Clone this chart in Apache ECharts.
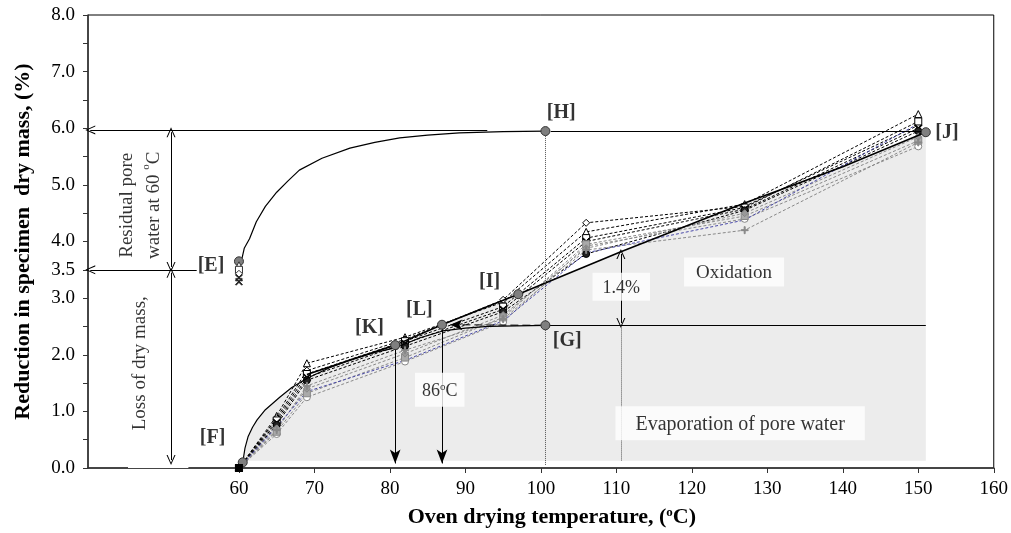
<!DOCTYPE html>
<html>
<head>
<meta charset="utf-8">
<script src="https://cdn.jsdelivr.net/npm/echarts@6/dist/echarts.min.js"></script>
<style>
  html, body { margin: 0; padding: 0; background: #fff; }
  #chart { width: 1011px; height: 533px; }
</style>
</head>
<body>
<div id="chart"></div>
<script>
// oven temperatures of the test specimens
const temps = [60, 65, 69, 82, 95, 106, 127, 150]
// mass reduction (%) of each specimen
const specA = [0, 0.92, 1.85, 2.31, 2.93, 4.17, 4.66, 6.25]
const specB = [0, 0.88, 1.72, 2.27, 2.97, 4.33, 4.62, 6.05]
const specC = [0, 0.84, 1.66, 2.24, 2.85, 4.06, 4.60, 6.12]
const specD = [0, 0.80, 1.60, 2.20, 2.80, 4.00, 4.57, 6.00]
const specE = [0, 0.76, 1.55, 2.15, 2.76, 3.78, 4.55, 5.95]
const specF = [0, 0.60, 1.25, 1.88, 2.58, 3.92, 4.40, 5.68]
const specG = [0, 0.64, 1.32, 1.95, 2.66, 3.95, 4.45, 5.78]
const specH = [0, 0.70, 1.40, 2.02, 2.70, 3.88, 4.50, 5.85]
const specI = [0, 0.67, 1.45, 2.08, 2.63, 3.85, 4.20, 5.75]
const specJ = [0, 0.73, 1.35, 1.90, 2.60, 3.80, 4.38, 6.08]

// values read at 60 C for the residual pore water [E]
const residualAt60 = [3.65, 3.58, 3.50, 3.43, 3.36, 3.29]

// evaporation curve F -> G
const evapX = [60.5, 60.8, 61.2, 61.8, 62.4, 63.5, 65.4, 67, 69.1, 72, 75, 78, 80.7, 84, 87, 90, 93, 100.6]
const evapY = [0.10, 0.35, 0.55, 0.72, 0.85, 1.03, 1.25, 1.42, 1.59, 1.77, 1.92, 2.04, 2.12, 2.30, 2.42, 2.47, 2.50, 2.52]
// residual pore water curve E -> H
const resX = [60.4, 60.7, 61.4, 62.3, 63.5, 65, 66.5, 68, 71, 74.7, 78, 81.3, 85, 89.2, 95, 100.6]
const resY = [3.70, 3.88, 4.05, 4.35, 4.62, 4.87, 5.07, 5.26, 5.47, 5.65, 5.75, 5.83, 5.88, 5.92, 5.94, 5.95]
// trend line K -> L -> I -> J
const trendX = [69, 80.7, 86.9, 97, 110.6, 127, 140, 151]
const trendY = [1.65, 2.17, 2.53, 3.07, 3.82, 4.68, 5.32, 5.93]
// shaded region boundary
const fillX = [60.6, 61.2, 62.4, 63.5, 65.4, 67, 69.1, 75, 80.7, 86.9, 97, 110.6, 127, 140, 151, 151]
const fillY = [0.13, 0.55, 0.85, 1.03, 1.25, 1.42, 1.60, 1.95, 2.17, 2.53, 3.07, 3.82, 4.68, 5.32, 5.93, 0.13]
// marked points F, K, L, I, G, H, J
const keyX = [60.5, 80.7, 86.9, 97, 100.6, 100.6, 151]
const keyY = [0.10, 2.17, 2.53, 3.07, 2.52, 5.95, 5.93]

// axis ticks and labels
const xTicks = [60, 70, 80, 90, 100, 110, 120, 130, 140, 150, 160]
const yTicks = [0, 0.5, 1, 1.5, 2, 2.5, 3, 3.5, 4, 4.5, 5, 5.5, 6, 6.5, 7, 7.5, 8]
const yLabels = [0, 1, 2, 3, 3.5, 4, 5, 6, 7, 8]

const FONT = 'Liberation Serif'
const pts = (xs, ys) => xs.map((x, i) => [x, ys[i]])

const xPath = 'path://M1,0 L5,4 L9,0 L10,1 L6,5 L10,9 L9,10 L5,6 L1,10 L0,9 L4,5 L0,1 Z'
const plusPath = 'path://M4.3,0 L5.7,0 L5.7,4.3 L10,4.3 L10,5.7 L5.7,5.7 L5.7,10 L4.3,10 L4.3,5.7 L0,5.7 L0,4.3 L4.3,4.3 Z'
const openArrow = 'path://M5,0 L10,10 L8.8,10 L5,2.2 L1.2,10 L0,10 Z'

function spec(values, color, symbol, fill, size) {
  return {
    type: 'line',
    data: pts(temps, values),
    symbol: symbol,
    symbolSize: size || 7,
    lineStyle: { color: color, width: 1, type: [3, 2] },
    itemStyle: { color: fill, borderColor: color, borderWidth: 1 },
    z: 3
  }
}

const chart = echarts.init(document.getElementById('chart'))

const seg = (a, b, s1, s2, style) => [
  { coord: a, symbol: s1 ? s1[0] : 'none', symbolSize: s1 ? s1[1] : 0, lineStyle: style },
  { coord: b, symbol: s2 ? s2[0] : 'none', symbolSize: s2 ? s2[1] : 0 }
]
const OPEN = [openArrow, [9, 10]]
const FILLED = ['arrow', [8, 14]]
const dotted = { type: 'dotted', color: '#555', width: 1 }

function lbl(x, y, text, extra) {
  return {
    value: [x, y],
    label: Object.assign({
      show: true, formatter: text, position: 'inside',
      fontFamily: FONT, fontSize: 20, fontWeight: 'bold', color: '#000',
      rich: { s: { fontSize: 11, verticalAlign: 'top', fontFamily: FONT, lineHeight: 11 } }
    }, extra || {})
  }
}
const box = { fontWeight: 'normal', fontSize: 18, backgroundColor: '#fff' }

const option = {
  animation: false,
  grid: { left: 88, right: 16, top: 15, bottom: 65, show: true, borderColor: '#000', borderWidth: 1 },
  xAxis: {
    type: 'value', min: 40, max: 160,
    splitLine: { show: false },
    axisLine: { lineStyle: { color: '#333', width: 1.5 } },
    axisTick: { customValues: xTicks, length: 5, lineStyle: { color: '#333' } },
    axisLabel: { customValues: xTicks, fontFamily: FONT, fontSize: 19, color: '#000', margin: 12 },
    name: '{b|Oven drying temperature, (}{s|o}{b|C)}',
    nameLocation: 'middle', nameGap: 38,
    nameTextStyle: {
      padding: [0, 0, 0, 22],
      rich: {
        b: { fontFamily: FONT, fontSize: 22, fontWeight: 'bold', color: '#000' },
        s: { fontFamily: FONT, fontSize: 13, fontWeight: 'bold', color: '#000', verticalAlign: 'top' }
      }
    }
  },
  yAxis: {
    type: 'value', min: 0, max: 8,
    splitLine: { show: false },
    axisLine: { show: true, lineStyle: { color: '#333', width: 1.5 } },
    axisTick: { show: true, customValues: yTicks, length: 5, lineStyle: { color: '#333' } },
    axisLabel: { customValues: yLabels, formatter: v => v.toFixed(1), fontFamily: FONT, fontSize: 19, color: '#000', margin: 13 },
    name: 'Reduction in specimen  dry mass, (%)',
    nameLocation: 'middle', nameGap: 54,
    nameTextStyle: { fontFamily: FONT, fontSize: 22, fontWeight: 'bold', color: '#000' }
  },
  series: [
    {
      type: 'line', data: pts(fillX, fillY), symbol: 'none', silent: true, z: 1,
      lineStyle: { width: 0 },
      areaStyle: { color: '#ececec', opacity: 1, origin: 0.13 }
    },
    spec(specA, '#000', 'triangle', '#fff'),
    spec(specB, '#000', 'diamond', '#fff'),
    spec(specC, '#000', 'rect', '#fff'),
    spec(specD, '#000', xPath, '#000'),
    spec(specE, '#000', 'circle', '#222'),
    spec(specF, '#888', 'circle', '#fff'),
    spec(specG, '#888', 'rect', '#aaa'),
    spec(specH, '#888', 'diamond', '#999'),
    spec(specI, '#888', plusPath, '#888'),
    spec(specJ, '#4a4aa8', 'none', '#4a4aa8'),
    {
      type: 'line', data: pts(evapX, evapY), symbol: 'none', z: 4,
      lineStyle: { color: '#000', width: 1.2 }
    },
    {
      type: 'line', data: pts(resX, resY), symbol: 'none', z: 4,
      lineStyle: { color: '#000', width: 1.2 }
    },
    {
      type: 'line', data: pts(trendX, trendY), symbol: 'none', z: 4,
      lineStyle: { color: '#000', width: 1.6 }
    },
    {
      type: 'scatter', z: 6, symbolSize: 9,
      data: pts(keyX, keyY),
      itemStyle: { color: '#7f7f7f', borderColor: '#333', borderWidth: 1, opacity: 1 }
    },
    {
      type: 'scatter', z: 6,
      data: residualAt60.map((v, i) => ({
        value: [60, v],
        symbol: ['circle', 'triangle', 'rect', 'diamond', xPath, xPath][i],
        symbolSize: i === 0 ? 9 : 7,
        itemStyle: {
          color: i === 0 ? '#7f7f7f' : (i < 4 ? '#fff' : '#000'),
          borderColor: '#333', borderWidth: 1, opacity: 1
        }
      }))
    },
    {
      type: 'scatter', z: 6, symbol: 'rect', symbolSize: 8,
      data: [[temps[0], specA[0]]],
      itemStyle: { color: '#000', opacity: 1 }
    },
    {
      type: 'line', data: [], z: 5, clip: false, silent: true,
      markLine: {
        silent: true, animation: false,
        label: { show: false },
        lineStyle: { color: '#000', width: 1, type: 'solid' },
        data: [
          seg([92.9, 5.97], [40.3, 5.97], null, OPEN),
          seg([54.4, 3.5], [40.3, 3.5], null, OPEN),
          seg([51, 5.93], [51, 3.55], OPEN, OPEN),
          seg([51, 3.45], [51, 0.14], OPEN, OPEN),
          seg([101.3, 5.95], [150.5, 5.95]),
          seg([100.6, 2.52], [151, 2.52]),
          seg([100.6, 5.9], [100.6, 0.05], null, null, dotted),
          seg([110.6, 2.48], [110.6, 0.13], null, null, dotted),
          seg([110.6, 3.78], [110.6, 2.56], OPEN, OPEN),
          seg([80.7, 2.12], [80.7, 0.08], null, FILLED, { color: '#000', width: 1 }),
          seg([86.9, 2.48], [86.9, 0.08], null, FILLED, { color: '#000', width: 1 }),
          seg([100.2, 2.52], [88.0, 2.53], null, ['arrow', [8, 12]], { type: [8, 4], color: '#000', width: 1 })
        ]
      },
      markArea: {
        silent: true,
        itemStyle: { color: '#fff' },
        data: [[{ coord: [45.3, -0.06] }, { coord: [53.3, 0.06] }]]
      }
    },
    {
      type: 'scatter', z: 10, symbolSize: 0, silent: true,
      data: [
        lbl(56.3, 3.57, '[E]'),
        lbl(56.5, 0.53, '[F]'),
        lbl(102.7, 6.27, '[H]'),
        lbl(93.2, 3.28, '[I]'),
        lbl(77.3, 2.47, '[K]'),
        lbl(83.9, 2.79, '[L]'),
        lbl(103.5, 2.24, '[G]'),
        lbl(153.8, 5.92, '[J]'),
        lbl(125.6, 3.46, 'Oxidation', Object.assign({}, box, { fontSize: 19, padding: [6, 12, 4, 12] })),
        lbl(126.4, 0.79, 'Evaporation of pore water', Object.assign({}, box, { fontSize: 20, padding: [8, 20, 6, 20] })),
        lbl(110.65, 3.2, '1.4%', Object.assign({}, box, { padding: [6, 10, 4, 10] })),
        lbl(86.6, 1.38, '86{s|o}C', Object.assign({}, box, { padding: [9, 7, 7, 7] })),
        lbl(47.0, 4.64, 'Residual pore\nwater at 60 {s|o}C', { fontWeight: 'normal', fontSize: 19, rotate: 90, lineHeight: 27 }),
        lbl(46.9, 1.85, 'Loss of dry mass,', { fontWeight: 'normal', fontSize: 19, rotate: 90 })
      ]
    }
  ]
}

chart.setOption(option)
</script>
</body>
</html>
